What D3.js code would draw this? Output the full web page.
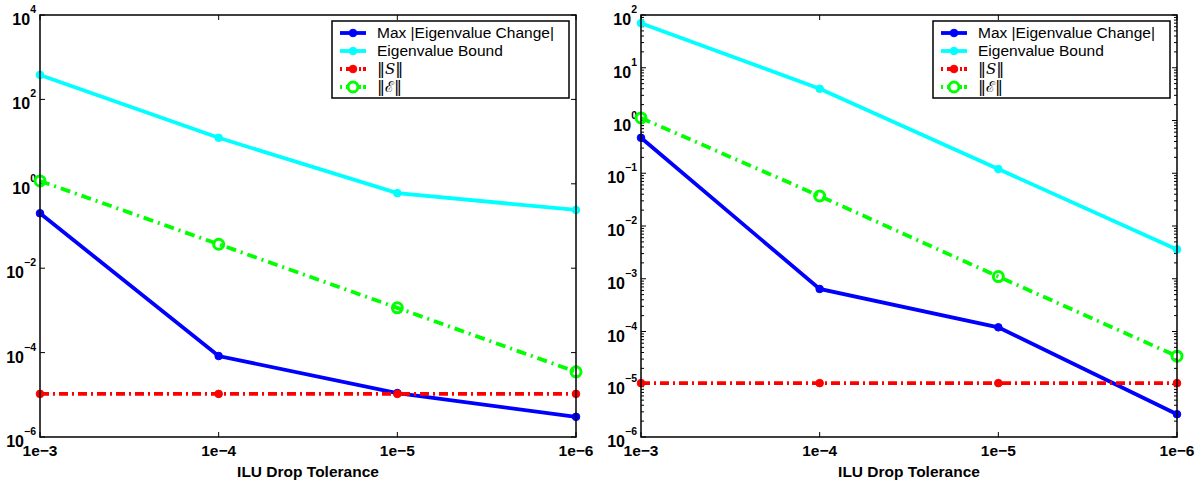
<!DOCTYPE html>
<html>
<head>
<meta charset="utf-8">
<script src="https://cdn.jsdelivr.net/npm/d3@7"></script>
<style>
  body { margin: 0; background: #fff; }
  svg { display: block; }
  .tick-label { font-family: "Liberation Sans", Arial, sans-serif; font-weight: bold; }
  .legend-text { font-family: "Liberation Sans", Arial, sans-serif; font-size: 15.5px; }
</style>
</head>
<body>
<div id="chart"></div>
<script>
// drop tolerances on the x axis
var tolerances = [1e-3, 1e-4, 1e-5, 1e-6]
var tolLabels = ["1e\u22123", "1e\u22124", "1e\u22125", "1e\u22126"]

// left panel series
var leftMaxChange = [0.2, 8.3e-5, 1.1e-5, 3e-6]
var leftBound     = [380, 12.3, 0.6, 0.24]
var leftS         = [1.05e-5, 1.05e-5, 1.05e-5, 1.05e-5]
var leftE         = [1.17, 0.037, 1.15e-3, 3.5e-5]

// right panel series
var rightMaxChange = [0.47, 6.4e-4, 1.2e-4, 2.7e-6]
var rightBound     = [70, 4.0, 0.12, 3.6e-3]
var rightS         = [1.05e-5, 1.05e-5, 1.05e-5, 1.05e-5]
var rightE         = [1.12, 0.037, 1.1e-3, 3.4e-5]

// y ticks
var leftYTicks  = [1e-6, 1e-4, 1e-2, 1, 1e2, 1e4]
var leftYExps   = ["\u22126", "\u22124", "\u22122", "0", "2", "4"]
var rightYTicks = [1e-6, 1e-5, 1e-4, 1e-3, 1e-2, 1e-1, 1, 1e1, 1e2]
var rightYExps  = ["\u22126", "\u22125", "\u22124", "\u22123", "\u22122", "\u22121", "0", "1", "2"]

var legendNames = ["Max |Eigenvalue Change|", "Eigenvalue Bound", "S", "E"]

var width = 1202, height = 481

var svg = d3.select("#chart").append("svg")
    .attr("width", width)
    .attr("height", height)

var styles = [
  {color: "#0000ff", dash: null,       marker: "dot"},
  {color: "#00ffff", dash: null,       marker: "dot"},
  {color: "#ff0000", dash: "9,4,2,4",  marker: "dot"},
  {color: "#00ff00", dash: "10,5,2,5", marker: "circle"}
]

function drawPanel(left, top, w, h, yDomain, yTicks, yExps, minor, series) {
  var g = svg.append("g").attr("transform", "translate(" + left + "," + top + ")")

  var x = d3.scaleLog().domain([1e-3, 1e-6]).range([0, w])
  var y = d3.scaleLog().domain(yDomain).range([h, 0])

  // minor y ticks
  if (minor) {
    var mins = []
    var lo = Math.round(Math.log10(yDomain[0])), hi = Math.round(Math.log10(yDomain[1]))
    for (var d = lo; d < hi; d++) {
      for (var k = 2; k < 10; k++) mins.push(k * Math.pow(10, d))
    }
    g.selectAll(".minor").data(mins).enter().append("path")
      .attr("d", function(v) {
        var yy = y(v)
        return "M0," + yy + "h3M" + w + "," + yy + "h-3"
      })
      .attr("stroke", "#000").attr("stroke-width", 1)
  }

  // major y ticks
  g.selectAll(".ytick").data(yTicks).enter().append("path")
    .attr("d", function(v) {
      var yy = y(v)
      return "M0," + yy + "h5M" + w + "," + yy + "h-5"
    })
    .attr("stroke", "#000").attr("stroke-width", 1)

  // x ticks, top and bottom
  g.selectAll(".xtick").data(tolerances).enter().append("path")
    .attr("d", function(v) {
      var xx = x(v)
      return "M" + xx + "," + h + "v-5M" + xx + ",0v5"
    })
    .attr("stroke", "#000").attr("stroke-width", 1)

  // y tick labels: 10 with a superscript
  yTicks.forEach(function(v, i) {
    var t = g.append("text").attr("class", "tick-label")
      .attr("text-anchor", "end")
      .attr("x", -4)
      .attr("y", y(v) + 10)
    t.append("tspan").attr("font-size", 16).text("10")
    t.append("tspan").attr("font-size", 10.5).attr("dy", -12).text(yExps[i])
  })

  // x tick labels
  g.selectAll(".xlab").data(tolerances).enter().append("text")
    .attr("class", "tick-label")
    .attr("text-anchor", "middle")
    .attr("x", function(v) { return x(v) })
    .attr("y", h + 19)
    .attr("font-size", 15.5)
    .text(function(v, i) { return tolLabels[i] })

  g.append("text").attr("class", "tick-label")
    .attr("text-anchor", "middle")
    .attr("x", w / 2)
    .attr("y", h + 40)
    .attr("font-size", 15.5)
    .text("ILU Drop Tolerance")

  var line = d3.line()
    .x(function(d, i) { return x(tolerances[i]) })
    .y(function(d) { return y(d) })

  series.forEach(function(s, si) {
    var st = styles[si]
    g.append("path")
      .attr("d", line(s))
      .attr("fill", "none")
      .attr("stroke", st.color)
      .attr("stroke-width", 3.8)
      .attr("stroke-dasharray", st.dash)
    g.selectAll(".m" + si).data(s).enter().append("circle")
      .attr("cx", function(d, i) { return x(tolerances[i]) })
      .attr("cy", function(d) { return y(d) })
      .attr("r", st.marker == "circle" ? 5 : 3.8)
      .attr("fill", st.marker == "circle" ? "none" : st.color)
      .attr("stroke", st.color)
      .attr("stroke-width", st.marker == "circle" ? 3 : 1)
  })

  // box
  g.append("rect")
    .attr("width", w).attr("height", h)
    .attr("fill", "none").attr("stroke", "#000").attr("stroke-width", 1.5)

  // legend
  var lw = 237, lh = 77
  var lg = g.append("g").attr("transform", "translate(" + (w - 7 - lw) + ",6)")
  lg.append("rect").attr("width", lw).attr("height", lh)
    .attr("fill", "#fff").attr("stroke", "#000").attr("stroke-width", 1.5)
  legendNames.forEach(function(name, i) {
    var st = styles[i]
    var yy = 12 + i * 18
    lg.append("path").attr("d", "M8," + yy + "h26")
      .attr("stroke", st.color).attr("stroke-width", 3.8)
      .attr("stroke-dasharray", st.dash ? "2,4,9,4,2" : null)
    lg.append("circle").attr("cx", 21).attr("cy", yy)
      .attr("r", st.marker == "circle" ? 5 : 3.8)
      .attr("fill", st.marker == "circle" ? "#fff" : st.color)
      .attr("stroke", st.color)
      .attr("stroke-width", st.marker == "circle" ? 3 : 1)
    var t = lg.append("text").attr("class", "legend-text")
      .attr("x", 45).attr("y", yy + 5)
    if (i < 2) {
      t.text(name)
    } else {
      t.append("tspan").attr("font-family", "DejaVu Sans").attr("font-size", 16).text("\u2016")
      t.append("tspan").attr("font-family", "DejaVu Serif").attr("font-style", name == "S" ? "italic" : "normal")
        .attr("font-size", 15)
        .text(name == "S" ? "S" : "\u2130")
      t.append("tspan").attr("font-family", "DejaVu Sans").attr("font-size", 16).text("\u2016")
    }
  })
}

drawPanel(40, 15, 536, 422, [1e-6, 1e4], leftYTicks, leftYExps, false,
  [leftMaxChange, leftBound, leftS, leftE])
drawPanel(641, 15, 536, 422, [1e-6, 1e2], rightYTicks, rightYExps, true,
  [rightMaxChange, rightBound, rightS, rightE])
</script>
</body>
</html>
